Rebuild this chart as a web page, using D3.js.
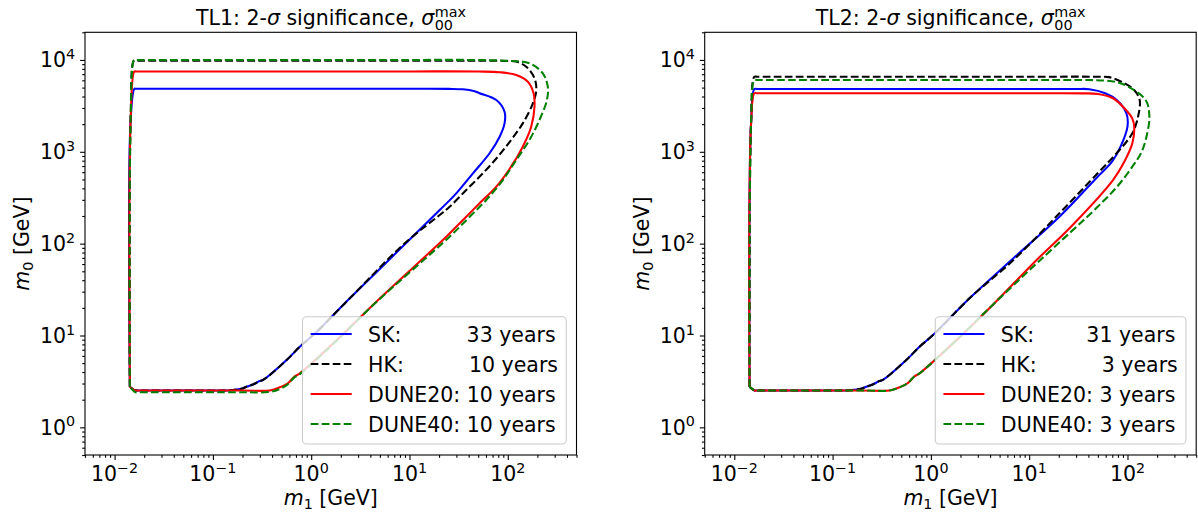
<!DOCTYPE html>
<html>
<head>
<meta charset="utf-8">
<script src="https://cdn.jsdelivr.net/npm/d3@7"></script>
<style>
body { margin: 0; background: #fff; }
text { font-family: "DejaVu Sans", sans-serif; fill: #000; }
</style>
</head>
<body>
<div id="chart"></div>
<script>
// ---- data: contours, [m1, m0] in GeV ----
var series = ['SK', 'HK', 'DUNE20', 'DUNE40'];
var colors = ['#0000ff', '#000000', '#ff0000', '#008000'];
var dashed = [false, true, false, true];

var tl1Labels = ['SK:' + ' '.repeat(10) + '33 years', 'HK:' + ' '.repeat(10) + '10 years', 'DUNE20: 10 years', 'DUNE40: 10 years'];
var tl2Labels = ['SK:' + ' '.repeat(8) + '31 years', 'HK:' + ' '.repeat(10) + '3 years', 'DUNE20: 3 years', 'DUNE40: 3 years'];

var xMajor = [1e-2, 1e-1, 1e0, 1e1, 1e2];
var xExp = ['\u22122', '\u22121', '0', '1', '2'];
var yMajor = [1e0, 1e1, 1e2, 1e3, 1e4];
var yExp = ['0', '1', '2', '3', '4'];

// shared lower branches (diagonal + floor)
var lowSK = [[2.47, 25.4], [1.05, 10.1], [0.766, 7.55], [0.562, 5.4], [0.324, 3.28], [0.29, 3.15], [0.278, 3.06],
    [0.24, 2.85], [0.22, 2.77], [0.2, 2.65], [0.181, 2.6], [0.15, 2.53], [0.1, 2.52], [0.03, 2.52], [0.017, 2.52],
    [0.0161, 2.52], [0.0143, 2.77]];
var lowDUNE = [[4.43, 22.5], [1.98, 9.7], [0.766, 3.87], [0.673, 3.56], [0.58, 3.02], [0.48, 2.73], [0.38, 2.52],
    [0.2, 2.52], [0.03, 2.52], [0.017, 2.52], [0.0161, 2.52], [0.0143, 2.77]];
var lowD40tl1 = [[4.43, 22.3], [1.98, 9.6], [0.766, 3.8], [0.673, 3.5], [0.58, 2.95], [0.48, 2.62], [0.38, 2.43],
    [0.2, 2.41], [0.03, 2.41], [0.0175, 2.41], [0.0163, 2.41], [0.0143, 2.77]];

// TL1 upper branches
var tl1SK = [[0.0143, 2.77], [0.01456, 2220], [0.0159, 4850], [0.0165, 4850], [0.1, 4850], [1, 4850], [10, 4850],
    [25, 4840], [35, 4790], [45, 4600], [51.6, 4340], [76.4, 3660], [92.7, 2730], [92.7, 2040], [82.6, 1459], [65.3, 964],
    [44.2, 583], [29.9, 353], [20.3, 232]];
var tl1HK = [[0.0143, 2.77], [0.01456, 2220], [0.0157, 9820], [0.0165, 9820], [0.1, 9820], [1, 9820], [10, 9820],
    [60, 9800], [100, 9750], [122, 9600], [154, 8450], [187, 6310], [195, 4710], [180, 3370], [142, 2040], [108, 1345],
    [79.3, 885], [55.8, 583], [37.8, 384], [25.6, 252], [20.3, 205], [8.85, 100]];
var tl1D20 = [[0.0143, 2.77], [0.01456, 2220], [0.01585, 7500], [0.0165, 7500], [0.1, 7500], [1, 7500], [10, 7500],
    [50, 7480], [82.6, 7350], [122, 6860], [160, 5800], [183, 4340], [187, 3100], [173, 1877], [142, 1137], [108, 689],
    [76.4, 417], [51.6, 275], [35, 181], [23.7, 119]];
var tl1D40 = [[0.0143, 2.77], [0.01456, 2220], [0.0158, 10000], [0.0165, 10000], [0.1, 10000], [1, 10000], [10, 10000],
    [40.9, 10000], [104, 9750], [166, 9200], [227, 7160], [255, 5120], [250, 3660], [210, 2220], [166, 1345], [122, 815],
    [89.1, 493], [60.4, 299], [40.9, 196], [25.6, 119]];

// TL2 upper branches
var tl2SK = [[0.0143, 2.77], [0.0148, 2000], [0.016, 4830], [0.017, 4830], [0.1, 4830], [1, 4830], [10, 4830],
    [30, 4830], [41, 4800], [59.4, 4340], [77.8, 3660], [97.5, 2620], [100, 1877], [85, 1137], [69.7, 780], [49.7, 536],
    [20.3, 196], [6.6, 66.4]];
var tl2HK = [[0.0143, 2.77], [0.0148, 2000], [0.016, 6570], [0.017, 6570], [0.1, 6570], [1, 6570], [10, 6570],
    [50, 6560], [65, 6500], [93, 5570], [117, 4710], [133, 3660], [128, 2410], [112, 1590], [77.5, 964], [49.7, 583],
    [20.3, 214], [6.92, 66.4]];
var tl2D20 = [[0.0143, 2.77], [0.0148, 2000], [0.016, 4340], [0.017, 4340], [0.1, 4340], [1, 4340], [10, 4340],
    [35, 4330], [50, 4260], [71.2, 3830], [93, 2980], [112, 2300], [117, 1877], [112, 1238], [94, 800], [71.2, 493],
    [26.6, 153], [11.9, 66.4]];
var tl2D40 = [[0.0143, 2.77], [0.0148, 2000], [0.016, 6050], [0.017, 6050], [0.1, 6050], [1, 6050], [10, 6050],
    [40, 6040], [60, 5950], [80, 5700], [102, 5120], [153, 3660], [167, 2410], [153, 1345], [137, 964], [112, 689],
    [78.4, 417], [49.7, 252], [13, 66.4]];

var panels = [
    { name: 'TL1', left: 85, labels: tl1Labels,
      curves: [tl1SK.concat(lowSK), tl1HK.concat(lowSK), tl1D20.concat(lowDUNE), tl1D40.concat(lowD40tl1)] },
    { name: 'TL2', left: 704.7, labels: tl2Labels,
      curves: [tl2SK.concat(lowSK), tl2HK.concat(lowSK), tl2D20.concat(lowDUNE), tl2D40.concat(lowDUNE)] }
];

// ---- layout ----
var W = 1198, H = 515;
var axW = 491.5, axTop = 32.3, axBottom = 455;
var fs = 20.5, supFs = 14.3;

var svg = d3.select('#chart').append('svg')
    .attr('width', W).attr('height', H)
    .style('background', '#fff');

function minors(lo, hi) {
    var out = [];
    for (var e = -3; e <= 5; e++)
        for (var k = 2; k <= 9; k++) {
            var v = k * Math.pow(10, e);
            if (v >= lo && v <= hi) out.push(v);
        }
    return out;
}

panels.forEach(function (p, pi) {
    var x = d3.scaleLog().domain([5e-3, 5e2]).range([p.left, p.left + axW]);
    var y = d3.scaleLog().domain([0.5, 2e4]).range([axBottom, axTop]);
    var g = svg.append('g');
    var cx = p.left + axW / 2;

    var clipId = 'clip' + pi;
    g.append('clipPath').attr('id', clipId).append('rect')
        .attr('x', p.left).attr('y', axTop).attr('width', axW).attr('height', axBottom - axTop);

    // curves
    var line = d3.line()
        .x(function (d) { return x(d[0]); })
        .y(function (d) { return y(d[1]); })
        .curve(d3.curveCatmullRom.alpha(0.5));
    var cg = g.append('g').attr('clip-path', 'url(#' + clipId + ')');
    p.curves.forEach(function (pts, i) {
        cg.append('path')
            .attr('d', line(pts))
            .attr('fill', 'none')
            .attr('stroke', colors[i])
            .attr('stroke-width', 2.08)
            .attr('stroke-linejoin', 'round')
            .attr('stroke-dasharray', dashed[i] ? '7.7,3.3' : null);
    });

    // axes ticks
    var xAx = g.append('g').attr('transform', 'translate(0,' + axBottom + ')');
    xAx.append('g').call(d3.axisBottom(x).tickValues(xMajor).tickSize(4.9).tickFormat(''));
    xAx.append('g').call(d3.axisBottom(x).tickValues(minors(5e-3, 5e2)).tickSize(2.8).tickFormat(''));
    var yAx = g.append('g').attr('transform', 'translate(' + p.left + ',0)');
    yAx.append('g').call(d3.axisLeft(y).tickValues(yMajor).tickSize(4.9).tickFormat(''));
    yAx.append('g').call(d3.axisLeft(y).tickValues(minors(0.5, 2e4)).tickSize(2.8).tickFormat(''));
    g.selectAll('.domain').remove();
    g.selectAll('.tick line').attr('stroke', '#000').attr('stroke-width', 1.1);

    // tick labels
    xMajor.forEach(function (v, i) {
        var t = g.append('text').attr('x', x(v)).attr('y', 481)
            .attr('text-anchor', 'middle').style('font-size', fs + 'px');
        t.append('tspan').text('10');
        t.append('tspan').attr('dy', -8.3).style('font-size', supFs + 'px').text(xExp[i]);
    });
    yMajor.forEach(function (v, i) {
        var t = g.append('text').attr('x', p.left - 9.8).attr('y', y(v) + 7.4)
            .attr('text-anchor', 'end').style('font-size', fs + 'px');
        t.append('tspan').text('10');
        t.append('tspan').attr('dy', -8.3).style('font-size', supFs + 'px').text(yExp[i]);
    });

    // frame
    g.append('rect')
        .attr('x', p.left).attr('y', axTop).attr('width', axW).attr('height', axBottom - axTop)
        .attr('fill', 'none').attr('stroke', '#000').attr('stroke-width', 1.1);

    // axis labels
    var xl = g.append('text').attr('x', cx).attr('y', 505)
        .attr('text-anchor', 'middle').style('font-size', fs + 'px');
    xl.append('tspan').style('font-style', 'italic').text('m');
    xl.append('tspan').attr('dy', 4).style('font-size', supFs + 'px').text('1');
    xl.append('tspan').attr('dy', -4).text(' [GeV]');

    var yl = g.append('text')
        .attr('transform', 'translate(' + (p.left - 56) + ',' + ((axTop + axBottom) / 2) + ') rotate(-90)')
        .attr('text-anchor', 'middle').style('font-size', fs + 'px');
    yl.append('tspan').style('font-style', 'italic').text('m');
    yl.append('tspan').attr('dy', 4).style('font-size', supFs + 'px').text('0');
    yl.append('tspan').attr('dy', -4).text(' [GeV]');

    // title with stacked sub/superscript
    var tfs = 20.5;
    var tt = g.append('text').attr('y', 25).style('font-size', tfs + 'px');
    tt.append('tspan').text(p.name + ': 2-');
    tt.append('tspan').style('font-style', 'italic').text('\u03c3');
    tt.append('tspan').text(' significance, ');
    tt.append('tspan').style('font-style', 'italic').text('\u03c3');
    var tw = tt.node().getComputedTextLength();
    var sup = g.append('text').attr('y', 16.5).style('font-size', (tfs * 0.7) + 'px').text('max');
    var sub = g.append('text').attr('y', 29.5).style('font-size', (tfs * 0.7) + 'px').text('00');
    var sw = Math.max(sup.node().getComputedTextLength(), sub.node().getComputedTextLength());
    var x0 = cx - (tw + sw) / 2;
    tt.attr('x', x0);
    sup.attr('x', x0 + tw + 0.5);
    sub.attr('x', x0 + tw + 0.5);

    // legend
    var lg = g.append('g');
    var box = lg.append('rect');
    var maxW = 0;
    var rowY = [334, 364, 394, 424];
    var texts = p.labels.map(function (s, i) {
        var t = lg.append('text').attr('y', rowY[i] + 7.6)
            .style('font-size', fs + 'px').style('white-space', 'pre').text(s);
        maxW = Math.max(maxW, t.node().getComputedTextLength());
        return t;
    });
    var pad = 0.4 * fs, hl = 2.0 * fs, htp = 0.8 * fs;
    var boxW = pad + hl + htp + maxW + pad;
    var bx = p.left + axW - 0.5 * fs - boxW;
    box.attr('x', bx).attr('y', 316.7).attr('width', boxW).attr('height', 444 - 316.7)
        .attr('rx', 4).attr('fill', '#fff').attr('fill-opacity', 0.8)
        .attr('stroke', '#cccccc').attr('stroke-width', 1.1);
    texts.forEach(function (t, i) {
        t.attr('x', bx + pad + hl + htp);
        lg.append('line')
            .attr('x1', bx + pad).attr('x2', bx + pad + hl)
            .attr('y1', rowY[i]).attr('y2', rowY[i])
            .attr('stroke', colors[i]).attr('stroke-width', 2.08)
            .attr('stroke-dasharray', dashed[i] ? '7.7,3.3' : null);
    });
});
</script>
</body>
</html>
